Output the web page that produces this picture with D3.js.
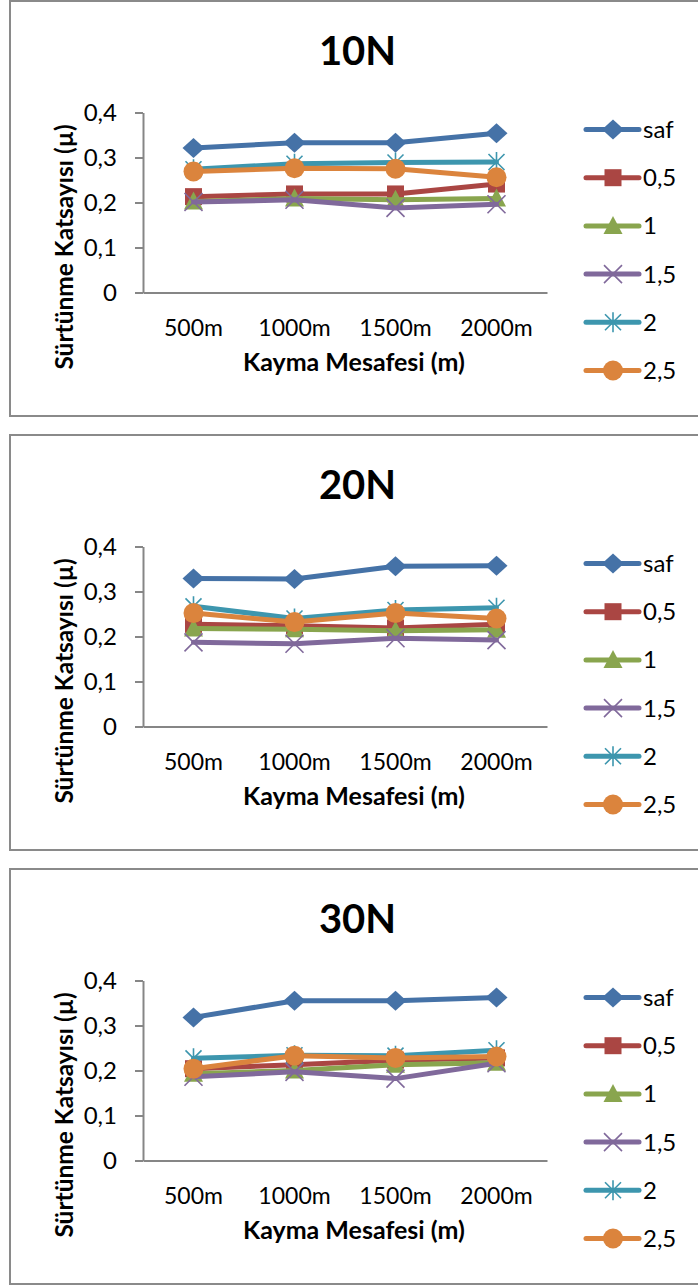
<!DOCTYPE html>
<html>
<head>
<meta charset="utf-8">
<script src="https://cdn.jsdelivr.net/npm/d3@7"></script>
<style>
  html, body { margin: 0; padding: 0; background: #ffffff; }
  svg { display: block; }
</style>
</head>
<body>
<svg id="chart" width="698" height="1286"></svg>
<script>
// ---------- data ----------
const categories = ["500m", "1000m", "1500m", "2000m"];
const seriesNames = ["saf", "0,5", "1", "1,5", "2", "2,5"];
const panelTitles = ["10N", "20N", "30N"];
const yTicks = [0, 0.1, 0.2, 0.3, 0.4];
const xAxisTitle = "Kayma Mesafesi (m)";
const yAxisTitle = "Sürtünme Katsayısı (µ)";

// one row per series (saf, 0,5, 1, 1,5, 2, 2,5), one value per category
const load10N = [
  [0.321, 0.333, 0.333, 0.354],
  [0.213, 0.219, 0.219, 0.241],
  [0.202, 0.209, 0.206, 0.209],
  [0.201, 0.206, 0.188, 0.196],
  [0.274, 0.286, 0.289, 0.290],
  [0.269, 0.276, 0.275, 0.256]
];
const load20N = [
  [0.329, 0.328, 0.356, 0.357],
  [0.227, 0.224, 0.219, 0.227],
  [0.218, 0.216, 0.213, 0.215],
  [0.187, 0.184, 0.196, 0.192],
  [0.267, 0.240, 0.259, 0.264],
  [0.252, 0.232, 0.252, 0.240]
];
const load30N = [
  [0.318, 0.355, 0.355, 0.362],
  [0.204, 0.213, 0.223, 0.228],
  [0.193, 0.200, 0.213, 0.217],
  [0.186, 0.197, 0.182, 0.216],
  [0.227, 0.234, 0.233, 0.245],
  [0.204, 0.233, 0.228, 0.231]
];
const panelData = [load10N, load20N, load30N];

// ---------- styles ----------
const colors = ["#4572A7", "#AA4643", "#89A54E", "#80699B", "#3D96AE", "#DB843D"];
const markerTypes = ["diamond", "square", "triangle", "times", "asterisk", "circle"];
const FONT = "Lato, 'Open Sans', 'Liberation Sans', sans-serif";
const axisColor = "#868686";

const panelTops = [1, 435, 869];
const panelLeft = 10, panelW = 700, panelH = 415;

const svg = d3.select("#chart");

function drawMarker(g, type, color, cx, cy) {
  const m = g.append("g").attr("transform", `translate(${cx},${cy})`);
  if (type === "diamond") {
    m.append("path").attr("d", "M-11,0L0,-10L11,0L0,10Z").attr("fill", color);
  } else if (type === "square") {
    m.append("rect").attr("x", -8.5).attr("y", -8.5).attr("width", 17).attr("height", 17).attr("fill", color);
  } else if (type === "triangle") {
    m.append("path").attr("d", "M0,-10L9.5,8L-9.5,8Z").attr("fill", color);
  } else if (type === "times") {
    m.append("path").attr("d", "M-9,-9L9,9M-9,9L9,-9").attr("stroke", color).attr("stroke-width", 1.6).attr("fill", "none");
  } else if (type === "asterisk") {
    m.append("path").attr("d", "M-8,-8L8,8M-8,8L8,-8M0,-10L0,10").attr("stroke", color).attr("stroke-width", 1.6).attr("fill", "none");
  } else if (type === "circle") {
    m.append("circle").attr("r", 10).attr("fill", color);
  }
}

panelData.forEach((data, p) => {
  const g = svg.append("g").attr("transform", `translate(${panelLeft},${panelTops[p]})`);

  // border
  g.append("rect")
    .attr("x", 0).attr("y", 0).attr("width", panelW).attr("height", panelH)
    .attr("fill", "#ffffff").attr("stroke", "#8a8a8a").attr("stroke-width", 2);

  // title
  g.append("text")
    .attr("x", 347.5).attr("y", 64)
    .attr("text-anchor", "middle")
    .style("font-family", FONT).style("font-weight", "bold").style("font-size", "40px")
    .attr("fill", "#000")
    .text(panelTitles[p]);

  const x = d3.scaleBand().domain(categories).range([133, 537]);
  const y = d3.scaleLinear().domain([0, 0.4]).range([291.5, 111.5]);
  const cx = d => x(d) + x.bandwidth() / 2;

  // y axis
  const yAxis = g.append("g").attr("transform", "translate(133,0)")
    .call(d3.axisLeft(y).tickValues(yTicks).tickSize(8).tickSizeOuter(0).tickPadding(18)
      .tickFormat(d => d === 0 ? "0" : d3.format(".1f")(d).replace(".", ",")));
  yAxis.select(".domain").attr("stroke", axisColor).attr("stroke-width", 2);
  yAxis.selectAll(".tick line").attr("stroke", axisColor).attr("stroke-width", 2);
  yAxis.selectAll(".tick text")
    .style("font-family", FONT).style("font-size", "24px").attr("fill", "#000").attr("dy", "0.35em");

  // x axis
  const xAxis = g.append("g").attr("transform", "translate(0,291.5)")
    .call(d3.axisBottom(x).tickSize(0).tickSizeOuter(0).tickPadding(27));
  xAxis.select(".domain").attr("stroke", axisColor).attr("stroke-width", 2);
  xAxis.selectAll(".tick text")
    .style("font-family", FONT).style("font-size", "23px").attr("fill", "#000");

  // axis titles
  g.append("text")
    .attr("x", 344).attr("y", 370)
    .attr("text-anchor", "middle")
    .style("font-family", FONT).style("font-weight", "bold").style("font-size", "25px")
    .attr("fill", "#000")
    .text(xAxisTitle);
  g.append("text")
    .attr("transform", "translate(63,246) rotate(-90)")
    .attr("text-anchor", "middle")
    .style("font-family", FONT).style("font-weight", "bold").style("font-size", "24.5px")
    .attr("fill", "#000")
    .text(yAxisTitle);

  // series
  const line = d3.line().x((d, i) => cx(categories[i])).y(d => y(d));
  data.forEach((vals, s) => {
    const sg = g.append("g");
    sg.append("path").datum(vals).attr("d", line)
      .attr("fill", "none").attr("stroke", colors[s]).attr("stroke-width", 5)
      .attr("stroke-linejoin", "round").attr("stroke-linecap", "round");
    vals.forEach((v, i) => drawMarker(sg, markerTypes[s], colors[s], cx(categories[i]), y(v)));
  });

  // legend
  seriesNames.forEach((name, s) => {
    const ly = 128.5 + s * 48.2;
    const lg = g.append("g");
    lg.append("line").attr("x1", 576).attr("x2", 629).attr("y1", ly).attr("y2", ly)
      .attr("stroke", colors[s]).attr("stroke-width", 5).attr("stroke-linecap", "round");
    drawMarker(lg, markerTypes[s], colors[s], 603, ly);
    lg.append("text").attr("x", 633).attr("y", ly).attr("dy", "0.35em")
      .style("font-family", FONT).style("font-size", "24px").attr("fill", "#000")
      .text(name);
  });
});
</script>
</body>
</html>
